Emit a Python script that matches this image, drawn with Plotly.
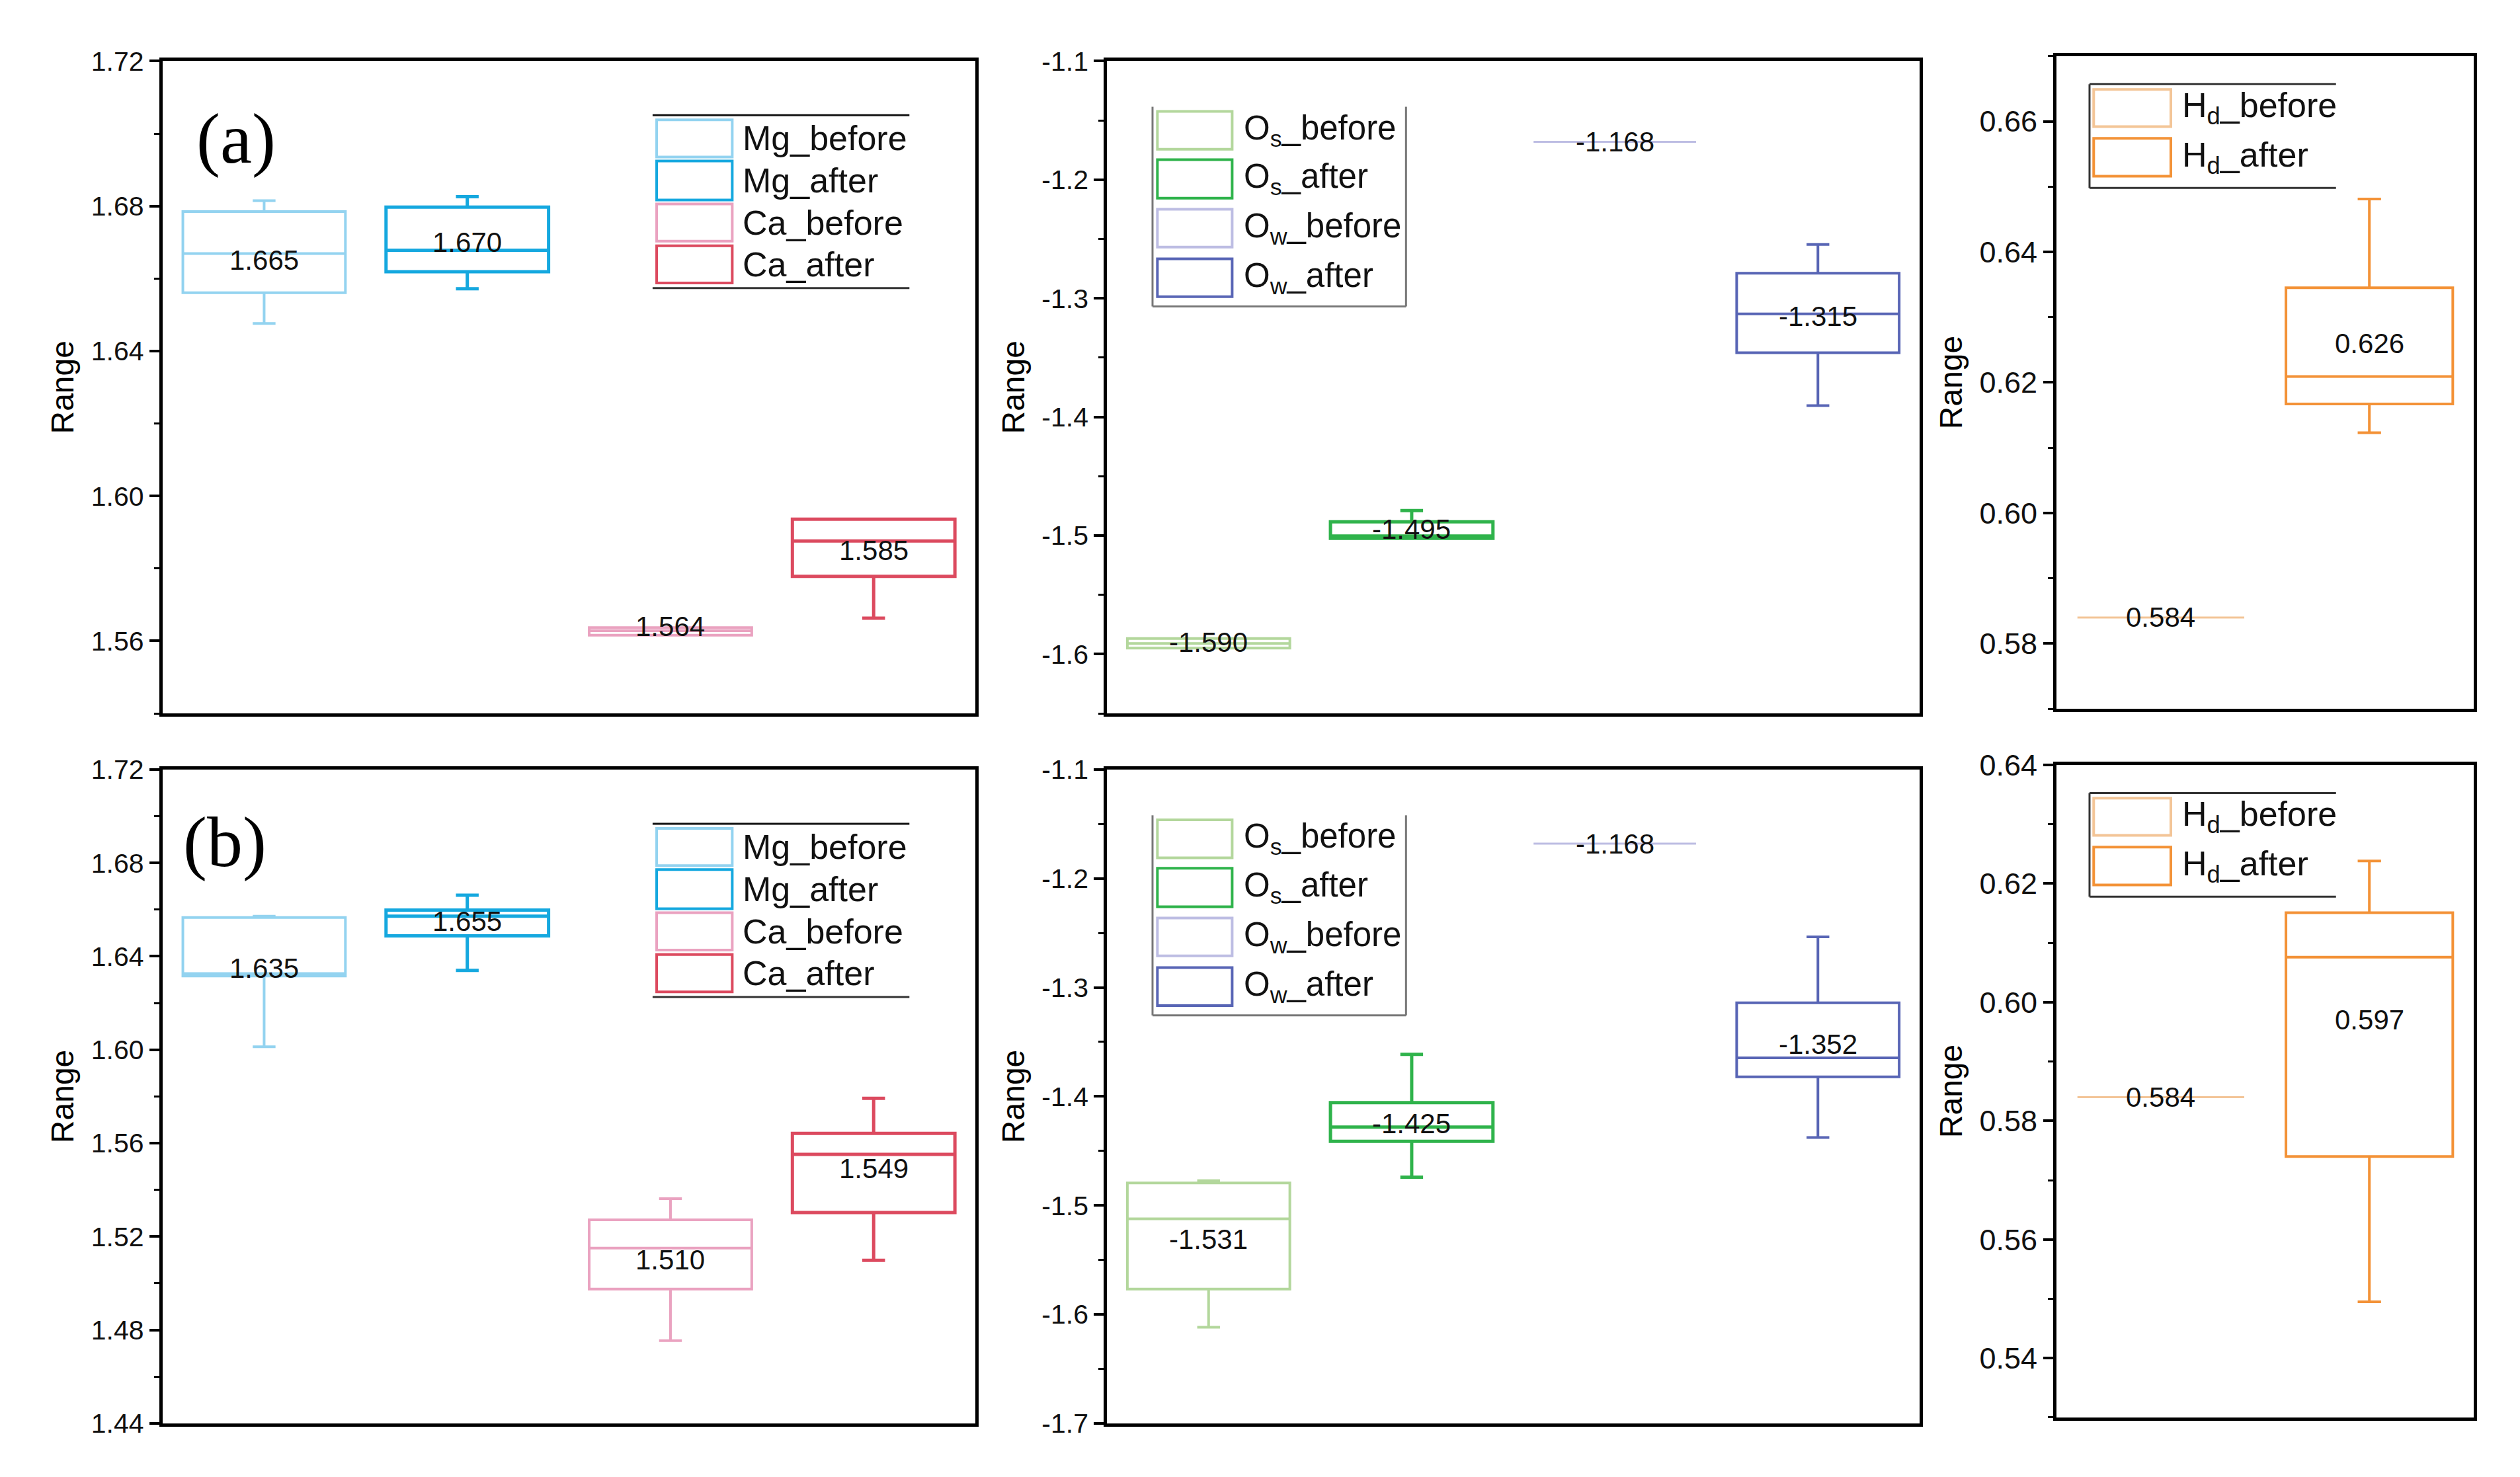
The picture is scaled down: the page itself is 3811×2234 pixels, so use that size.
import plotly.graph_objects as go

# ---------------- data ----------------
ion_names = ["Mg_before", "Mg_after", "Ca_before", "Ca_after"]
o_names = ["O<sub>s</sub>_before", "O<sub>s</sub>_after", "O<sub>w</sub>_before", "O<sub>w</sub>_after"]
h_names = ["H<sub>d</sub>_before", "H<sub>d</sub>_after"]
pos4 = [1, 2, 3, 4]
pos2 = [1, 2]

# (a) ions
a_ion_q1 = [1.6561, 1.6619, 1.5616, 1.5778]
a_ion_med = [1.6669, 1.6678, 1.5628, 1.5876]
a_ion_q3 = [1.6785, 1.6797, 1.5637, 1.5936]
a_ion_lo = [1.6476, 1.6572, 1.5616, 1.5663]
a_ion_hi = [1.6815, 1.6826, 1.5637, 1.5936]
a_ion_mean = [1.665, 1.670, 1.564, 1.585]

# (a) oxygen
a_o_q1 = [-1.5950, -1.5024, -1.168, -1.3459]
a_o_med = [-1.5910, -1.5005, -1.168, -1.3131]
a_o_q3 = [-1.5868, -1.4884, -1.168, -1.2788]
a_o_lo = [-1.5950, -1.5024, -1.168, -1.3904]
a_o_hi = [-1.5868, -1.4790, -1.168, -1.2546]
a_o_mean = [-1.590, -1.495, -1.168, -1.315]

# (a) hydrogen
a_h_q1 = [0.584, 0.6167]
a_h_med = [0.584, 0.6209]
a_h_q3 = [0.584, 0.6345]
a_h_lo = [0.584, 0.6123]
a_h_hi = [0.584, 0.6481]
a_h_mean = [0.584, 0.626]

# (b) ions
b_ion_q1 = [1.6316, 1.6488, 1.4975, 1.5303]
b_ion_med = [1.6326, 1.6572, 1.5151, 1.5552]
b_ion_q3 = [1.6566, 1.6598, 1.5272, 1.5642]
b_ion_lo = [1.6013, 1.6340, 1.4754, 1.5098]
b_ion_hi = [1.6572, 1.6662, 1.5362, 1.5792]
b_ion_mean = [1.635, 1.655, 1.510, 1.549]

# (b) oxygen
b_o_q1 = [-1.5768, -1.4412, -1.168, -1.3820]
b_o_med = [-1.5123, -1.4281, -1.168, -1.3645]
b_o_q3 = [-1.4794, -1.4057, -1.168, -1.3140]
b_o_lo = [-1.6118, -1.4741, -1.168, -1.4377]
b_o_hi = [-1.4772, -1.3614, -1.168, -1.2535]
b_o_mean = [-1.531, -1.425, -1.168, -1.352]

# (b) hydrogen
b_h_q1 = [0.584, 0.5740]
b_h_med = [0.584, 0.6076]
b_h_q3 = [0.584, 0.6151]
b_h_lo = [0.584, 0.5495]
b_h_hi = [0.584, 0.6238]
b_h_mean = [0.584, 0.597]

# tick labels
ion_a_ticks = [1.56, 1.60, 1.64, 1.68, 1.72]
ion_a_text = ["1.56", "1.60", "1.64", "1.68", "1.72"]
ion_b_ticks = [1.44, 1.48, 1.52, 1.56, 1.60, 1.64, 1.68, 1.72]
ion_b_text = ["1.44", "1.48", "1.52", "1.56", "1.60", "1.64", "1.68", "1.72"]
o_a_ticks = [-1.6, -1.5, -1.4, -1.3, -1.2, -1.1]
o_a_text = ["-1.6", "-1.5", "-1.4", "-1.3", "-1.2", "-1.1"]
o_b_ticks = [-1.7, -1.6, -1.5, -1.4, -1.3, -1.2, -1.1]
o_b_text = ["-1.7", "-1.6", "-1.5", "-1.4", "-1.3", "-1.2", "-1.1"]
h_a_ticks = [0.58, 0.60, 0.62, 0.64, 0.66]
h_a_text = ["0.58", "0.60", "0.62", "0.64", "0.66"]
h_b_ticks = [0.54, 0.56, 0.58, 0.60, 0.62, 0.64]
h_b_text = ["0.54", "0.56", "0.58", "0.60", "0.62", "0.64"]

# ---------------- styles ----------------
ion_colors = ["#93d3f0", "#15a8df", "#eaa2c0", "#dc4a5f"]
o_colors = ["#b3d79c", "#2fb34b", "#bdbde3", "#5865b5"]
h_colors = ["#f3c597", "#f39237"]
ion_lw = [4, 5, 4, 5]
o_lw = [4, 5, 3, 4]
h_lw = [3, 4]

SANS = "Liberation Sans, Arial, sans-serif"
SERIF = "Liberation Serif, Times New Roman, serif"

W, H = 3811, 2234
DX = -8 / W   # compensate page body margin
DY = 8 / H


def dom_x(a, b):
    return [a + DX, b + DX]


def dom_y(a, b):
    return [a + DY, b + DY]


panels = [
    dict(i=1, names=ion_names, colors=ion_colors, lw=ion_lw, pos=pos4,
         q1=a_ion_q1, med=a_ion_med, q3=a_ion_q3, lo=a_ion_lo, hi=a_ion_hi, mean=a_ion_mean,
         tv=ion_a_ticks, tt=ion_a_text, rng=[1.54, 1.72], mdt=0.02, m0=1.54, tfs=41,
         xd=dom_x(0.0645, 0.3870), yd=dom_y(0.5170, 0.9586), kind="ion", tag="(a)", tagpos=(0.0906, 0.881)),
    dict(i=2, names=o_names, colors=o_colors, lw=o_lw, pos=pos4,
         q1=a_o_q1, med=a_o_med, q3=a_o_q3, lo=a_o_lo, hi=a_o_hi, mean=a_o_mean,
         tv=o_a_ticks, tt=o_a_text, rng=[-1.65, -1.1], mdt=0.05, m0=-1.65, tfs=41,
         xd=dom_x(0.4393, 0.7617), yd=dom_y(0.5170, 0.9586), kind="o"),
    dict(i=3, names=h_names, colors=h_colors, lw=h_lw, pos=pos2,
         q1=a_h_q1, med=a_h_med, q3=a_h_q3, lo=a_h_lo, hi=a_h_hi, mean=a_h_mean,
         tv=h_a_ticks, tt=h_a_text, rng=[0.57, 0.67], mdt=0.01, m0=0.57, tfs=45,
         xd=dom_x(0.8161, 0.9816), yd=dom_y(0.5201, 0.9620), kind="h"),
    dict(i=4, names=ion_names, colors=ion_colors, lw=ion_lw, pos=pos4,
         q1=b_ion_q1, med=b_ion_med, q3=b_ion_q3, lo=b_ion_lo, hi=b_ion_hi, mean=b_ion_mean,
         tv=ion_b_ticks, tt=ion_b_text, rng=[1.44, 1.72], mdt=0.02, m0=1.44, tfs=41,
         xd=dom_x(0.0645, 0.3870), yd=dom_y(0.0363, 0.4790), kind="ion", tag="(b)", tagpos=(0.0767, 0.889)),
    dict(i=5, names=o_names, colors=o_colors, lw=o_lw, pos=pos4,
         q1=b_o_q1, med=b_o_med, q3=b_o_q3, lo=b_o_lo, hi=b_o_hi, mean=b_o_mean,
         tv=o_b_ticks, tt=o_b_text, rng=[-1.7, -1.1], mdt=0.05, m0=-1.7, tfs=41,
         xd=dom_x(0.4393, 0.7617), yd=dom_y(0.0363, 0.4790), kind="o"),
    dict(i=6, names=h_names, colors=h_colors, lw=h_lw, pos=pos2,
         q1=b_h_q1, med=b_h_med, q3=b_h_q3, lo=b_h_lo, hi=b_h_hi, mean=b_h_mean,
         tv=h_b_ticks, tt=h_b_text, rng=[0.53, 0.64], mdt=0.01, m0=0.53, tfs=45,
         xd=dom_x(0.8161, 0.9816), yd=dom_y(0.0403, 0.4821), kind="h"),
]

# legend geometry (axis-domain fractions)
legend_geo = {
    "ion": dict(frame=(0.603, 0.919, 0.917, 0.652), edges=["top", "bottom"],
                ix=(0.608, 0.701), rows=[(0.910, 0.853), (0.847, 0.787), (0.781, 0.724), (0.717, 0.660)],
                tx=0.712, fs=52, edgecolors={"top": "#111111", "bottom": "#333333"}),
    "o": dict(frame=(0.056, 0.368, 0.930, 0.624), edges=["left", "right", "bottom"],
              ix=(0.062, 0.154), rows=[(0.923, 0.865), (0.849, 0.790), (0.773, 0.715), (0.697, 0.639)],
              tx=0.167, fs=51, edgecolors={"left": "#777777", "right": "#777777", "bottom": "#777777"}),
    "h": dict(frame=(0.079, 0.670, 0.957, 0.798), edges=["left", "top", "bottom"],
              ix=(0.089, 0.274), rows=[(0.949, 0.892), (0.874, 0.816)],
              tx=0.298, fs=52, edgecolors={"left": "#333333", "top": "#333333", "bottom": "#333333"}),
}

fig = go.Figure()
shapes = []
annotations = []
layout_axes = {}

for p in panels:
    i = p["i"]
    xa = "x" if i == 1 else f"x{i}"
    ya = "y" if i == 1 else f"y{i}"
    for k in range(len(p["names"])):
        fig.add_trace(go.Box(
            x=[p["pos"][k]], q1=[p["q1"][k]], median=[p["med"][k]], q3=[p["q3"][k]],
            lowerfence=[p["lo"][k]], upperfence=[p["hi"][k]],
            width=0.8, whiskerwidth=0.14, boxpoints=False,
            line=dict(color=p["colors"][k], width=p["lw"][k]),
            fillcolor="rgba(255,255,255,0)",
            xaxis=xa, yaxis=ya, hoverinfo="skip", showlegend=False,
        ))
        annotations.append(dict(
            x=p["pos"][k], y=p["mean"][k], xref=xa, yref=ya,
            text=f"{p['mean'][k]:.3f}", showarrow=False,
            font=dict(family=SANS, size=42, color="#111111"),
            xanchor="center", yanchor="middle",
        ))

    nmax = len(p["pos"])
    xkey = "xaxis" if i == 1 else f"xaxis{i}"
    ykey = "yaxis" if i == 1 else f"yaxis{i}"
    layout_axes[xkey] = dict(
        domain=p["xd"], anchor=ya, range=[0.5, nmax + 0.5], automargin=False,
        showline=True, linecolor="black", linewidth=5, mirror=True,
        ticks="", showticklabels=False, showgrid=False, zeroline=False,
    )
    layout_axes[ykey] = dict(
        domain=p["yd"], anchor=xa, range=p["rng"], automargin=False,
        showline=True, linecolor="black", linewidth=5, mirror=True,
        tickmode="array", tickvals=p["tv"], ticktext=p["tt"],
        ticks="outside", ticklen=15, tickwidth=4, tickcolor="black",
        minor=dict(ticks="outside", ticklen=8, tickwidth=3, tickcolor="black",
                   dtick=p["mdt"], tick0=p["m0"], showgrid=False),
        tickfont=dict(family=SANS, size=p["tfs"], color="#111111"),
        showgrid=False, zeroline=False,
        title=dict(text="Range", font=dict(family=SANS, size=48, color="black"), standoff=12),
    )

    # legend
    g = legend_geo[p["kind"]]
    xr, yr = f"{xa} domain", f"{ya} domain"
    l, r, t, b = g["frame"]
    seg = {"top": (l, t, r, t), "bottom": (l, b, r, b), "left": (l, b, l, t), "right": (r, b, r, t)}
    for e in g["edges"]:
        x0, y0, x1, y1 = seg[e]
        shapes.append(dict(type="line", xref=xr, yref=yr, x0=x0, y0=y0, x1=x1, y1=y1,
                           line=dict(color=g["edgecolors"][e], width=3)))
    for k, (y_top, y_bot) in enumerate(g["rows"]):
        shapes.append(dict(type="rect", xref=xr, yref=yr, x0=g["ix"][0], x1=g["ix"][1],
                           y0=y_bot, y1=y_top, line=dict(color=p["colors"][k], width=4),
                           fillcolor="rgba(255,255,255,0)"))
        annotations.append(dict(
            x=g["tx"], y=(y_top + y_bot) / 2, xref=xr, yref=yr, text=p["names"][k],
            showarrow=False, xanchor="left", yanchor="middle",
            font=dict(family=SANS, size=g["fs"], color="#111111"),
        ))

    if "tag" in p:
        annotations.append(dict(
            x=p["tagpos"][0], y=p["tagpos"][1], xref=xr, yref=yr, text=p["tag"],
            showarrow=False, xanchor="center", yanchor="middle",
            font=dict(family=SERIF, size=108, color="black"),
        ))

fig.update_layout(
    width=W, height=H,
    margin=dict(l=0, r=0, t=0, b=0, autoexpand=False),
    paper_bgcolor="white", plot_bgcolor="white",
    showlegend=False,
    shapes=shapes, annotations=annotations,
    **layout_axes,
)

fig.write_html("out.html")
